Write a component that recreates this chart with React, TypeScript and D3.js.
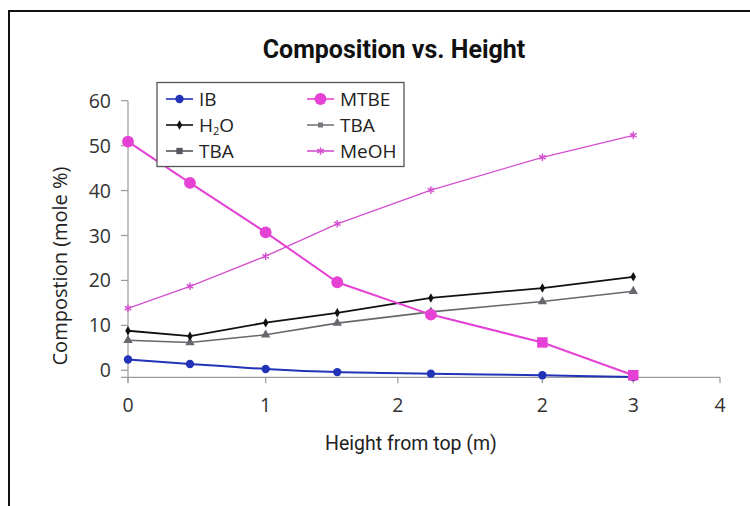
import * as d3 from "d3";

const heights = [0, 0.45, 1.0, 1.52, 2.2, 3.01, 3.67];
const ib = [2.4, 1.4, 0.3, -0.4, -0.75, -1.1, -1.5];
const mtbe = [50.9, 41.7, 30.7, 19.6, 12.4, 6.2, -1.1];
const mtbeMarkers = ["circle", "circle", "circle", "circle", "circle", "square", "square"];
const h2o = [8.8, 7.6, 10.6, 12.8, 16.1, 18.3, 20.8];
const tba = [6.7, 6.2, 7.9, 10.5, 13.0, 15.3, 17.6];
const meoh = [13.8, 18.7, 25.4, 32.6, 40.1, 47.4, 52.3];

const yTicks = [0, 10, 20, 30, 40, 50, 60];
const xTicks = [0, 1, 1.96, 3.01, 3.67, 4.3];
const xTickLabels = ["0", "1", "2", "2", "3", "4"];

const legendCol1 = [
  { name: "IB", color: "#2233b8", symbol: "circle" },
  { name: "H2O", color: "#111111", symbol: "diamond" },
  { name: "TBA", color: "#55575e", symbol: "square" },
];
const legendCol2 = [
  { name: "MTBE", color: "#e541d4", symbol: "bigcircle" },
  { name: "TBA", color: "#77787e", symbol: "smallsquare" },
  { name: "MeOH", color: "#d44fcf", symbol: "asterisk" },
];

const font = "'Open Sans', sans-serif";

const x = d3.scaleLinear().domain([0, 4.3]).range([128, 720]);
const y = d3.scaleLinear().domain([0, 60]).range([370.3, 100.7]);
const xAxisY = y(-1.56);

function sym(type: string, size: number) {
  const t =
    type === "diamond" ? d3.symbolDiamond :
    type === "triangle" ? d3.symbolTriangle :
    type === "square" ? d3.symbolSquare :
    type === "asterisk" ? d3.symbolAsterisk :
    d3.symbolCircle;
  return d3.symbol(t, size)() as string;
}

function Marker({ type, cx, cy, color }: { type: string; cx: number; cy: number; color: string }) {
  const sizes: Record<string, [string, number]> = {
    circle: ["circle", 55],
    bigcircle: ["circle", 110],
    square: ["square", 40],
    bigsquare: ["square", 110],
    smallsquare: ["square", 25],
    diamond: ["diamond", 26],
    triangle: ["triangle", 38],
    asterisk: ["asterisk", 40],
  };
  const [t, s] = sizes[type];
  const stroked = t === "asterisk";
  return (
    <path
      transform={`translate(${cx},${cy})`}
      d={sym(t, s)}
      fill={stroked ? "none" : color}
      stroke={color}
      strokeWidth={stroked ? 1.4 : 0}
    />
  );
}

export default function App() {
  const line = d3.line<number>().x((_, i) => x(heights[i])).y((d) => y(d));
  const smooth = d3.line<number>().x((_, i) => x(heights[i])).y((d) => y(d)).curve(d3.curveCatmullRom.alpha(0.5));

  const series = [
    { values: meoh, color: "#d44fcf", width: 1.3, marker: () => "asterisk", path: line },
    { values: tba, color: "#66686e", width: 1.6, marker: () => "triangle", path: line },
    { values: h2o, color: "#111111", width: 1.8, marker: () => "diamond", path: line },
    { values: ib, color: "#2233b8", width: 2, marker: () => "circle", path: smooth },
    { values: mtbe, color: "#e541d4", width: 2, marker: (i: number) => (mtbeMarkers[i] === "square" ? "bigsquare" : "bigcircle"), path: line },
  ];

  const legendRow = (item: { name: string; color: string; symbol: string }, i: number, x0: number) => {
    const cy = 99 + i * 26;
    return (
      <g key={item.name + x0}>
        <line x1={x0} x2={x0 + 27} y1={cy} y2={cy} stroke={item.color} strokeWidth={1.6} />
        <Marker type={item.symbol} cx={x0 + 13.5} cy={cy} color={item.color} />
        <text x={x0 + 33} y={cy + 7} fontSize={19} fill="#222" fontFamily={font}>
          {item.name === "H2O" ? (
            <>
              H<tspan fontSize={11} dy={3}>2</tspan>
              <tspan dy={-3}>O</tspan>
            </>
          ) : (
            item.name
          )}
        </text>
      </g>
    );
  };

  return (
    <svg width={750} height={506} style={{ position: "absolute", left: 0, top: 0, background: "#fff" }}>
      <rect x={9} y={11} width={760} height={520} fill="none" stroke="#111" strokeWidth={2} />
      <text x={394} y={58} textAnchor="middle" fontFamily="Roboto, sans-serif" fontWeight="bold" fontSize={25} fill="#111">
        Composition vs. Height
      </text>

      {/* y axis */}
      <line x1={128} x2={128} y1={y(60)} y2={xAxisY + 5} stroke="#9a9a9a" strokeWidth={1.2} />
      {yTicks.map((t) => (
        <g key={t}>
          <line x1={121} x2={128} y1={y(t)} y2={y(t)} stroke="#9a9a9a" strokeWidth={1.2} />
          <text x={111} y={y(t) + 7} textAnchor="end" fontSize={19.5} fill="#333" fontFamily={font}>
            {t}
          </text>
        </g>
      ))}
      {/* x axis */}
      <line x1={121} x2={720} y1={xAxisY} y2={xAxisY} stroke="#9a9a9a" strokeWidth={1.2} />
      {xTicks.map((t, i) => (
        <g key={i}>
          <line x1={x(t)} x2={x(t)} y1={xAxisY} y2={xAxisY + 6} stroke="#9a9a9a" strokeWidth={1.2} />
          <text x={x(t)} y={412} textAnchor="middle" fontSize={19.5} fill="#333" fontFamily={font}>
            {xTickLabels[i]}
          </text>
        </g>
      ))}

      <text
        transform={`translate(67,266) rotate(-90)`}
        textAnchor="middle"
        fontSize={20}
        fill="#222"
        fontFamily={font}
      >
        Compostion (mole %)
      </text>
      <text x={411} y={450} textAnchor="middle" fontSize={19.5} fill="#222" fontFamily="Roboto, sans-serif">
        Height from top (m)
      </text>

      {series.map((s, k) => (
        <g key={k}>
          <path d={s.path(s.values) as string} fill="none" stroke={s.color} strokeWidth={s.width} />
          {s.values.map((v, i) => (
            <Marker key={i} type={s.marker(i)} cx={x(heights[i])} cy={y(v)} color={s.color} />
          ))}
        </g>
      ))}

      {/* legend */}
      <rect x={157} y={82.5} width={247} height={84} fill="#fff" stroke="#555" strokeWidth={1.3} />
      {legendCol1.map((d, i) => legendRow(d, i, 166))}
      {legendCol2.map((d, i) => legendRow(d, i, 307))}
    </svg>
  );
}
